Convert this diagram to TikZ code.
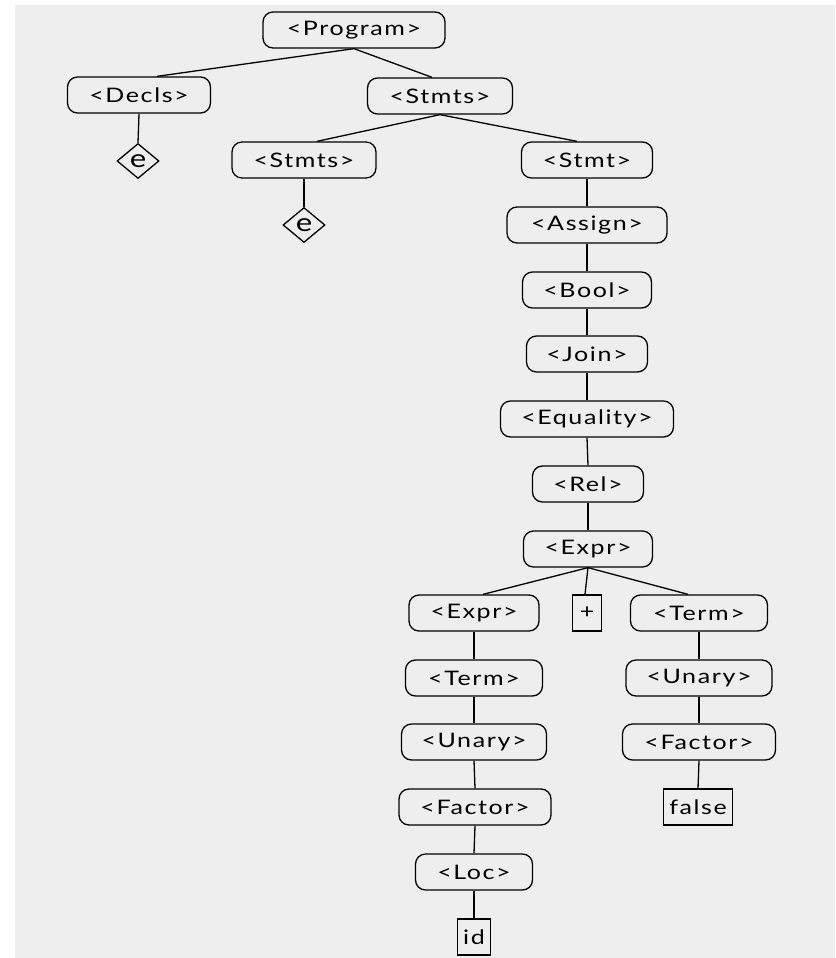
\documentclass[tikz,border=0pt]{standalone}
\usepackage{fontspec}
\usetikzlibrary{shapes.geometric}
\newfontfamily\treefont[LetterSpace=8, FakeStretch=1.25]{Lato}
\definecolor{panel}{HTML}{EEEEEE}
\tikzset{
  treetext/.style={font=\treefont\fontsize{20}{23}\selectfont},
  nt/.style={draw, rounded corners=10pt, minimum height=36pt, inner sep=0pt,
             line width=1.3pt, treetext},
  tm/.style={draw, rectangle, minimum height=36pt, inner xsep=1.5pt, inner ysep=0pt,
             line width=1.3pt, treetext},
  eps/.style={draw, diamond, minimum width=42pt, minimum height=35pt, inner sep=0pt,
              line width=1.3pt, font=\treefont\fontsize{25}{28}\selectfont},
  edge/.style={line width=1.3pt}
}
\begin{document}
\begin{tikzpicture}[x=1pt, y=-1pt]
  % canvas
  \fill[white] (0,0) rectangle (835,958);
  \fill[panel] (15,5) rectangle (835,958);
  \useasboundingbox (0,0) rectangle (835,958);

  % nonterminals
  \node[nt, minimum width=182pt] (prog)   at (354,30)  {<Program>};
  \node[nt, minimum width=143pt] (decls)  at (139,95)  {<Decls>};
  \node[nt, minimum width=145pt] (stmts)  at (440,96)  {<Stmts>};
  \node[nt, minimum width=144pt] (stmtsb) at (304,160) {<Stmts>};
  \node[nt, minimum width=131pt] (stmt)   at (587,160) {<Stmt>};
  \node[nt, minimum width=160pt] (assign) at (587,225) {<Assign>};
  \node[nt, minimum width=129pt] (bool)   at (587,290) {<Bool>};
  \node[nt, minimum width=121pt] (join)   at (587,354) {<Join>};
  \node[nt, minimum width=173pt] (equal)  at (587,419) {<Equality>};
  \node[nt, minimum width=111pt] (rel)    at (588,484) {<Rel>};
  \node[nt, minimum width=129pt] (expr)   at (588,549) {<Expr>};
  \node[nt, minimum width=130pt] (exprb)  at (474,613) {<Expr>};
  \node[nt, minimum width=137pt] (termr)  at (699,613) {<Term>};
  \node[nt, minimum width=137pt] (terml)  at (474,678) {<Term>};
  \node[nt, minimum width=146pt] (unaryr) at (699,678) {<Unary>};
  \node[nt, minimum width=145pt] (unaryl) at (474,742) {<Unary>};
  \node[nt, minimum width=153pt] (factr)  at (699,742) {<Factor>};
  \node[nt, minimum width=152pt] (factl)  at (475,807) {<Factor>};
  \node[nt, minimum width=117pt] (loc)    at (474,872) {<Loc>};

  % terminals
  \node[tm, minimum width=29pt] (plus)  at (587,613) {+};
  \node[tm, minimum width=69pt] (false) at (698,807) {false};
  \node[tm, minimum width=33pt] (id)    at (474,937) {id};

  % empty productions
  \node[eps] (e1) at (138,161) {e};
  \node[eps] (e2) at (304,225) {e};

  % connectors
  \draw[edge] (prog.south)   -- ([xshift=18pt]decls.north);
  \draw[edge] (prog.south)   -- ([xshift=-8pt]stmts.north);
  \draw[edge] (decls.south)  -- (e1.north);
  \draw[edge] (stmts.south)  -- ([xshift=13pt]stmtsb.north);
  \draw[edge] (stmts.south)  -- ([xshift=-10pt]stmt.north);
  \draw[edge] (stmtsb.south) -- (e2.north);
  \draw[edge] (stmt.south)   -- (assign.north);
  \draw[edge] (assign.south) -- (bool.north);
  \draw[edge] (bool.south)   -- (join.north);
  \draw[edge] (join.south)   -- (equal.north);
  \draw[edge] (equal.south)  -- (rel.north);
  \draw[edge] (rel.south)    -- (expr.north);
  \draw[edge] (expr.south)   -- ([xshift=9pt]exprb.north);
  \draw[edge] (expr.south)   -- ([xshift=-2pt]plus.north);
  \draw[edge] (expr.south)   -- ([xshift=-11pt]termr.north);
  \draw[edge] (exprb.south)  -- (terml.north);
  \draw[edge] (terml.south)  -- (unaryl.north);
  \draw[edge] (unaryl.south) -- (factl.north);
  \draw[edge] (factl.south)  -- (loc.north);
  \draw[edge] (loc.south)    -- (id.north);
  \draw[edge] (termr.south)  -- (unaryr.north);
  \draw[edge] (unaryr.south) -- (factr.north);
  \draw[edge] (factr.south)  -- (false.north);
\end{tikzpicture}
\end{document}
